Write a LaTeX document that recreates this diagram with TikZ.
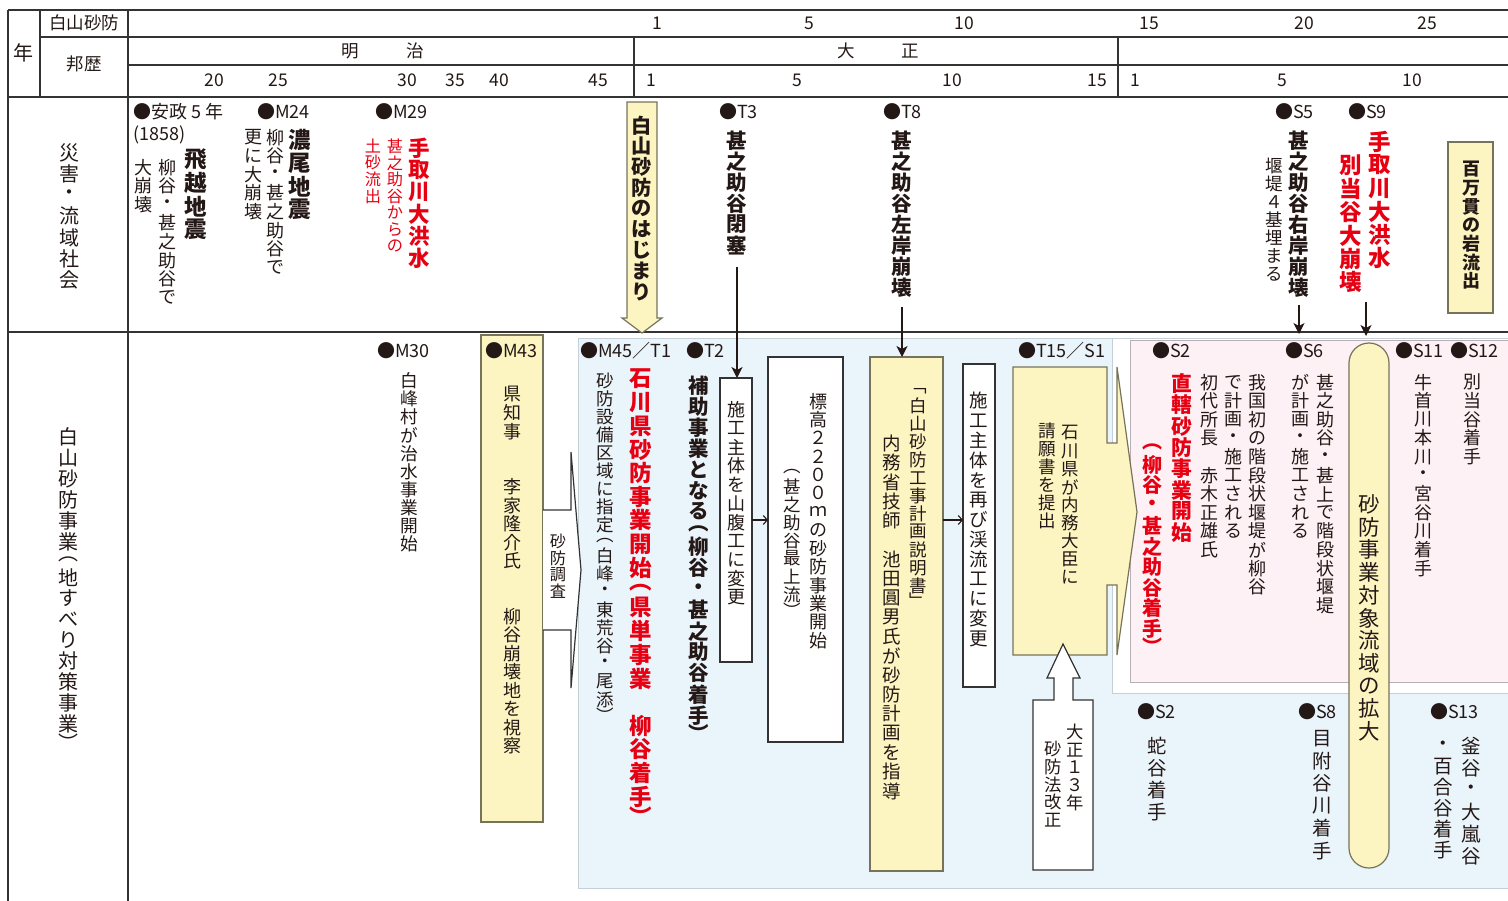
\documentclass[tikz,border=0pt]{standalone}
\usepackage{fontspec}
\setmainfont{Noto Sans CJK JP}
\usetikzlibrary{arrows.meta}
\definecolor{ink}{HTML}{231815}
\definecolor{jred}{HTML}{E60012}
\definecolor{ylw}{HTML}{FCF5C2}
\definecolor{ylwb}{HTML}{77735A}
\definecolor{bluebg}{HTML}{EAF4FB}
\definecolor{bluebd}{HTML}{C5CFD8}
\definecolor{pinkbg}{HTML}{FDF1F5}
\definecolor{pinkbd}{HTML}{B8B0B4}
\definecolor{gridc}{HTML}{333333}
\newcommand\setfs[2]{\fontsize{#1}{#2}\selectfont}
\makeatletter
\newdimen\vt@h
\newdimen\vt@b
\def\vsp{}
\newcommand\vt[1]{\vtop{\vt@b=\baselineskip\offinterlineskip\vt@a#1\relax}}
\def\vt@a#1{\ifx\relax#1\else\vt@cell{#1}\expandafter\vt@a\fi}
\def\vt@cell#1{\vt@h=\vt@b
 \ifx#1︵\vt@h=.7\vt@b\fi
 \ifx#1︶\vt@h=.7\vt@b\fi
 \ifx#1﹁\vt@h=.6\vt@b\fi
 \ifx#1﹂\vt@h=.6\vt@b\fi
 \vbox to\vt@h{\vss\hbox to 1em{\hss#1\hss}\vss}}
\makeatother
\begin{document}
\begin{tikzpicture}[x=1pt,y=-1pt,
  every node/.style={inner sep=0pt,outer sep=0pt,text=ink},
  vr/.style={anchor=north,font=\setfs{18}{18.6}},
  vs/.style={anchor=north,font=\setfs{16.2}{16.6}},
  vb/.style={anchor=north,font=\bfseries\setfs{20.5}{21}},
  vbl/.style={anchor=north,font=\bfseries\setfs{22.5}{23.3}},
  rt/.style={text=jred},
  lab/.style={anchor=west,font=\setfs{18}{20}},
  hd/.style={font=\setfs{17.5}{20}},
  gline/.style={draw=gridc,line width=1.3pt},
  gthick/.style={draw=gridc,line width=2.4pt},
  boxw/.style={draw=gridc,line width=1.2pt,fill=white},
  boxy/.style={draw=ylwb,line width=1.2pt,fill=ylw},
  darr/.style={draw=ink,line width=1.1pt,-{Stealth[length=11pt,width=11pt,inset=3pt]}},
  harr/.style={draw=ink,line width=1.1pt,-{Straight Barb[length=4pt,width=9pt]}}]
\useasboundingbox (0,0) rectangle (1508,900);
% ---------- backgrounds of section 2
\draw[fill=bluebg,draw=bluebd,line width=1pt] (578,338) rectangle (1515,888);
\draw[fill=white,draw=bluebd,line width=1pt] (1112,338) rectangle (1515,693);
\draw[fill=pinkbg,draw=pinkbd,line width=1pt] (1130,340) rectangle (1515,682);
% ---------- table grid
\draw[gthick] (8,10) -- (1515,10);
\draw[gline] (40,37) -- (1515,37);
\draw[gline] (128,65) -- (1515,65);
\draw[gthick] (8,97) -- (1515,97);
\draw[gthick] (8,332) -- (1515,332);
\draw[gthick] (8,10) -- (8,905);
\draw[gline] (40,10) -- (40,97);
\draw[gthick] (128,10) -- (128,905);
\draw[gline] (634,37) -- (634,97);
\draw[gline] (1118,37) -- (1118,97);
% ---------- header
\node[hd,font=\setfs{20}{20}] (nen) at (23,53) {年};
\node[hd] (hakusan) at (84,23) {白山砂防};
\node[hd] (hoki) at (84,64) {邦歴};
\foreach \x/\t [count=\i] in {657/1,809/5,964/10,1149/15,1304/20,1427/25}
  \node[hd] (ra\i) at (\x,23) {\t};
\foreach \x/\t [count=\i] in {350/明,415/治,846/大,910/正}
  \node[hd] (rb\i) at (\x,51) {\t};
\foreach \x/\t [count=\i] in {214/20,278/25,407/30,455/35,499/40,598/45,651/1,797/5,952/10,1097/15,1135/1,1282/5,1412/10}
  \node[hd] (rc\i) at (\x,80) {\t};
% ---------- section labels
\node[anchor=north,font=\setfs{20}{21.2}] (sec1) at (69,142) {\vt{災害・流域社会}};
\node[anchor=north,font=\setfs{20}{21}] (sec2) at (68,426) {\vt{白山砂防事業︵地すべり対策事業︶}};
% ---------- section 1
\node[lab] (ansei) at (133,112) {●安政 5 年};
\node[lab] (y1858) at (133,135) {(1858)};
\node[vbl] (hietsu) at (196,148) {\vt{飛越地震}};
\node[vr] (hietsu2) at (167,158) {\vt{柳谷・甚之助谷で}};
\node[vr] (hietsu3) at (143,158) {\vt{大崩壊}};
\node[lab] (m24) at (257,112) {●M24};
\node[vbl] (nobi) at (300,128) {\vt{濃尾地震}};
\node[vr] (nobi2) at (275,128) {\vt{柳谷・甚之助谷で}};
\node[vr] (nobi3) at (253,128) {\vt{更に大崩壊}};
\node[lab] (m29) at (375,112) {●M29};
\node[vb,rt,font=\bfseries\setfs{21.5}{22}] (m29a) at (419,137) {\vt{手取川大洪水}};
\node[vs,rt] (m29b) at (395,138) {\vt{甚之助谷からの}};
\node[vs,rt] (m29c) at (373,138) {\vt{土砂流出}};
\draw[boxy] (627,102) -- (657,102) -- (657,318) -- (662,318) -- (642,333) -- (622,318) -- (627,318) -- cycle;
\node[vb,font=\bfseries\setfs{20.2}{20.8}] (hajimari) at (642,115) {\vt{白山砂防のはじまり}};
\node[lab] (t3) at (719,112) {●T3};
\node[vb] (t3a) at (737,130) {\vt{甚之助谷閉塞}};
\node[lab] (t8) at (883,112) {●T8};
\node[vb] (t8a) at (902,130) {\vt{甚之助谷左岸崩壊}};
\node[lab] (s5) at (1275,112) {●S5};
\node[vb] (s5a) at (1299,130) {\vt{甚之助谷右岸崩壊}};
\node[vr,font=\setfs{17.5}{18}] (s5b) at (1274,157) {\vt{堰堤４基埋まる}};
\node[lab] (s9) at (1348,112) {●S9};
\node[vbl,rt] (s9a) at (1380,130) {\vt{手取川大洪水}};
\node[vbl,rt] (s9b) at (1351,154) {\vt{別当谷大崩壊}};
\node[boxy,minimum width=45pt,minimum height=171pt] (hyaku) at (1470.5,227.5) {};
\node[vb,font=\bfseries\setfs{18}{18.6}] (hyakut) at (1471,160) {\vt{百万貫の岩流出}};
% ---------- section 2
\node[lab] (m30) at (377,351) {●M30};
\node[vr,font=\setfs{17.7}{18.1}] (m30a) at (409,372) {\vt{白峰村が治水事業開始}};
\node[boxy,minimum width=62pt,minimum height=487pt] (m43box) at (512,578.5) {};
\node[lab] (m43) at (485,351) {●M43};
\node[vr,font=\setfs{18}{18.5}] (m43a) at (512,385) {\vt{県知事\vsp\vsp 李家隆介氏\vsp\vsp 柳谷崩壊地を視察}};
\draw[gline,line width=1.2pt,fill=white] (543,510) -- (571,510) -- (571,452) -- (581,570) -- (571,688) -- (571,630) -- (543,630);
\node[vs] (chosa) at (558,533) {\vt{砂防調査}};
\node[lab] (m45) at (580,351) {●M45／T1};
\node[vr,font=\setfs{17.5}{18}] (m45b) at (605,372) {\vt{砂防設備区域に指定︵白峰・東荒谷・尾添︶}};
\node[vbl,rt,font=\bfseries\setfs{22.5}{23.6}] (m45a) at (641,367) {\vt{石川県砂防事業開始︵県単事業\vsp 柳谷着手︶}};
\node[lab] (t2) at (686,351) {●T2};
\node[vb,font=\bfseries\setfs{20.5}{21}] (t2a) at (699,375) {\vt{補助事業となる︵柳谷・甚之助谷着手︶}};
\node[boxw,minimum width=32pt,minimum height=284pt] (b1) at (736,520) {};
\node[vr,font=\setfs{18}{18.8}] (b1t) at (736,400) {\vt{施工主体を山腹工に変更}};
\node[boxw,minimum width=75pt,minimum height=385pt] (b2) at (805.5,549.5) {};
\node[vr,font=\setfs{18}{18.4}] (b2t1) at (818,392) {\vt{標高２２００ｍの砂防事業開始}};
\node[vr,font=\setfs{17.5}{18}] (b2t2) at (792,465) {\vt{︵甚之助谷最上流︶}};
\node[boxy,minimum width=73pt,minimum height=514pt] (b3) at (906.5,614) {};
\node[vr,font=\setfs{17.5}{18}] (b3t1) at (918,386) {\vt{﹁白山砂防工事計画説明書﹂}};
\node[vr,font=\setfs{18.5}{19.3}] (b3t2) at (892,434) {\vt{内務省技師\vsp 池田圓男氏が砂防計画を指導}};
\node[boxw,minimum width=32pt,minimum height=323pt] (b4) at (979,525.5) {};
\node[vr,font=\setfs{18.5}{19.8}] (b4t) at (979,391) {\vt{施工主体を再び渓流工に変更}};
\draw[harr] (b1.east) -- (b1.east -| b2.west);
\draw[harr] (b3.east |- b1.east) -- (b4.west |- b1.east);
\node[lab] (t15) at (1018,351) {●T15／S1};
\draw[boxy] (1013,367) -- (1107,367) -- (1107,443) -- (1117,443) -- (1117,367) -- (1137,512) -- (1117,655) -- (1117,585) -- (1107,585) -- (1107,655) -- (1013,655) -- cycle;
\node[vr,font=\setfs{17.5}{18}] (t15a) at (1070,424) {\vt{石川県が内務大臣に}};
\node[vr,font=\setfs{17.5}{18}] (t15b) at (1047,422) {\vt{請願書を提出}};
\draw[boxw] (1033,870) -- (1033,700) -- (1054,700) -- (1054,678) -- (1047,678) -- (1063,644) -- (1080,678) -- (1073,678) -- (1073,700) -- (1093,700) -- (1093,870) -- cycle;
\node[vr,font=\setfs{17.3}{17.8}] (tai13a) at (1075,723) {\vt{大正１３年}};
\node[vr,font=\setfs{17.3}{17.8}] (tai13b) at (1053,740) {\vt{砂防法改正}};
% pink region
\node[lab] (s2) at (1152,351) {●S2};
\node[vbl,rt,font=\bfseries\setfs{20.8}{21.3}] (s2a) at (1182,373) {\vt{直轄砂防事業開始}};
\node[vb,rt,font=\bfseries\setfs{20}{20.5}] (s2b) at (1152,440) {\vt{︵柳谷・甚之助谷着手︶}};
\node[vr] (s2c) at (1209,373) {\vt{初代所長\vsp 赤木正雄氏}};
\node[vr] (s2d) at (1233,373) {\vt{で計画・施工される}};
\node[vr] (s2e) at (1257,373) {\vt{我国初の階段状堰堤が柳谷}};
\node[lab] (s6) at (1285,351) {●S6};
\node[vr] (s6a) at (1325,373) {\vt{甚之助谷・甚上で階段状堰堤}};
\node[vr] (s6b) at (1300,373) {\vt{が計画・施工される}};
\node[draw=ylwb,fill=ylw,line width=1.2pt,rounded corners=20pt,minimum width=40pt,minimum height=525pt] (pill) at (1369,605.5) {};
\node[vr,font=\setfs{21.5}{22.7}] (pillt) at (1369,493) {\vt{砂防事業対象流域の拡大}};
\node[lab] (s11) at (1395,351) {●S11};
\node[vr] (s11a) at (1423,373) {\vt{牛首川本川・宮谷川着手}};
\node[lab] (s12) at (1450,351) {●S12};
\node[vr] (s12a) at (1472,373) {\vt{別当谷着手}};
% lower blue
\node[lab] (s2l) at (1137,712) {●S2};
\node[vr,font=\setfs{19.5}{22}] (s2la) at (1157,735) {\vt{蛇谷着手}};
\node[lab] (s8) at (1298,712) {●S8};
\node[vr,font=\setfs{19.5}{22.5}] (s8a) at (1322,727) {\vt{目附谷川着手}};
\node[lab] (s13) at (1430,712) {●S13};
\node[vr,font=\setfs{19.5}{22}] (s13a) at (1471,735) {\vt{釜谷・大嵐谷}};
\node[vr,font=\setfs{19.5}{21}] (s13b) at (1443,735) {\vt{・百合谷着手}};
% ---------- connectors
\coordinate (t3s) at (737,267);
\draw[darr] (t3s) -- (t3s |- b1.north);
\coordinate (t8s) at (902,307);
\draw[darr] (t8s) -- (t8s |- b3.north);
\coordinate (s5s) at (1299,305);
\coordinate (s5e) at (1299,334);
\draw[darr] (s5s) -- (s5e);
\coordinate (s9s) at (1366,302);
\coordinate (s9e) at (1366,336);
\draw[darr] (s9s) -- (s9e);
\end{tikzpicture}
\end{document}
